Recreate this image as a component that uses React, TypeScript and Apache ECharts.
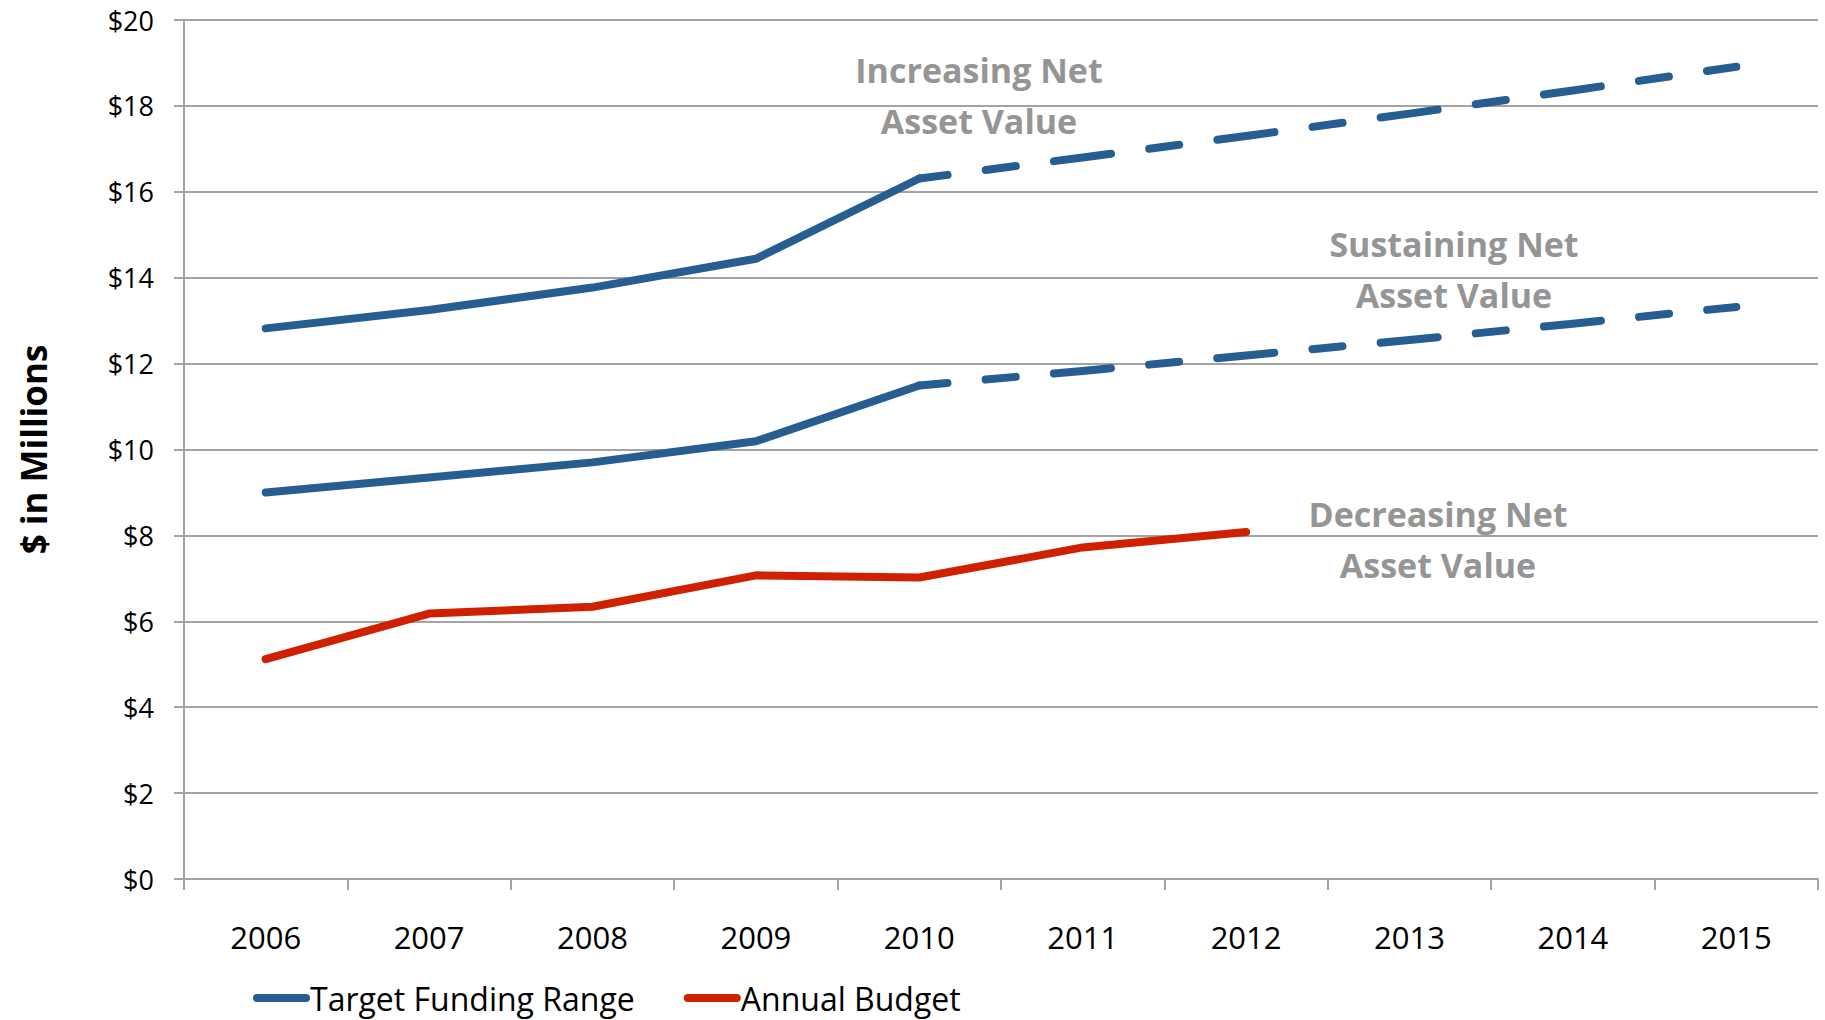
import React, { useEffect, useRef } from "react";
import * as echarts from "echarts";

const years = ["2006", "2007", "2008", "2009", "2010", "2011", "2012", "2013", "2014", "2015"];
const increasingActual = [12.82, 13.25, 13.77, 14.44, 16.31, null, null, null, null, null];
const increasingProjected = [null, null, null, null, 16.31, 16.8, 17.3, 17.82, 18.36, 18.91];
const sustainingActual = [9.0, 9.35, 9.7, 10.19, 11.49, null, null, null, null, null];
const sustainingProjected = [null, null, null, null, 11.49, 11.83, 12.19, 12.55, 12.93, 13.32];
const annualBudget = [5.12, 6.18, 6.34, 7.07, 7.02, 7.72, 8.08, null, null, null];
const yTicks = { min: 0, max: 20, interval: 2 };
const annotations = [
  { text: "Increasing Net\nAsset Value", x: 979, y: 95 },
  { text: "Sustaining Net\nAsset Value", x: 1454, y: 269 },
  { text: "Decreasing Net\nAsset Value", x: 1438, y: 539 },
];

const BLUE = "#265E91";
const RED = "#CF2000";
const GRID = "#A3A3A3";
const FONT = "'Open Sans', sans-serif";
const TARGET = "Target Funding Range";
const BUDGET = "Annual Budget";

const legendIcon = "path://M4,0 H53 A4,4 0 0 1 53,8 H4 A4,4 0 0 1 4,0 Z";

export default function App() {
  const ref = useRef<HTMLDivElement>(null);
  useEffect(() => {
    document.body.style.margin = "0";
    if (!ref.current) return;
    const chart = echarts.init(ref.current, null, { renderer: "svg" });
    const solid = (name: string, data: any[], color: string) => ({
      type: "line",
      name,
      data,
      showSymbol: false,
      symbol: "none",
      connectNulls: false,
      color,
      lineStyle: { color, width: 8, cap: "round", join: "round" },
      z: 3,
    });
    const dashed = (name: string, data: any[], color: string, dash: number[], offset: number) => ({
      type: "line",
      name,
      data,
      showSymbol: false,
      symbol: "none",
      color,
      lineStyle: { color, width: 8, cap: "round", join: "round", type: dash, dashOffset: offset },
      z: 3,
    });
    chart.setOption({
      animation: false,
      backgroundColor: "#fff",
      textStyle: { fontFamily: FONT },
      grid: { left: 184, right: 7, top: 20, bottom: 141, containLabel: false, outerBoundsMode: "none" },
      legend: {
        data: [
          { name: TARGET, icon: legendIcon },
          { name: BUDGET, icon: legendIcon },
        ],
        left: 248,
        top: 975,
        itemWidth: 57,
        itemHeight: 8,
        itemGap: 49,
        textStyle: { fontFamily: FONT, fontSize: 32, lineHeight: 36, color: "#000", padding: [0, 0, 0, -5] },
        selectedMode: false,
      },
      xAxis: {
        type: "category",
        data: years,
        boundaryGap: true,
        axisLine: { show: true, lineStyle: { color: GRID, width: 2 } },
        axisTick: { show: true, interval: 0, length: 11, lineStyle: { color: GRID, width: 2 } },
        axisLabel: { interval: 0, margin: 42, fontFamily: FONT, fontSize: 31, color: "#000" },
        splitLine: { show: false },
      },
      yAxis: {
        type: "value",
        min: yTicks.min,
        max: yTicks.max,
        interval: yTicks.interval,
        name: "$ in Millions",
        nameLocation: "middle",
        nameGap: 133,
        nameRotate: 90,
        nameTextStyle: { fontFamily: FONT, fontSize: 35, fontWeight: "bold", color: "#000" },
        axisLine: { show: true, lineStyle: { color: GRID, width: 2 } },
        axisTick: { show: true, length: 10, lineStyle: { color: GRID, width: 2 } },
        axisLabel: {
          margin: 30,
          fontFamily: FONT,
          fontSize: 27,
          color: "#000",
          formatter: (v: number) => "$" + v,
        },
        splitLine: { show: true, lineStyle: { color: GRID, width: 2 } },
      },
      series: [
        solid(TARGET, increasingActual, BLUE),
        dashed(TARGET, increasingProjected, BLUE, [57.5, 38.5, 30.3, 38.5], 28.75),
        solid(TARGET, sustainingActual, BLUE),
        dashed(TARGET, sustainingProjected, BLUE, [57.3, 38.3, 30.2, 38.3], 28.65),
        solid(BUDGET, annualBudget, RED),
      ],
      graphic: annotations.map((a) => ({
        type: "text",
        x: a.x,
        y: a.y,
        z: 10,
        style: {
          text: a.text,
          fill: "#959595",
          font: `bold 34px ${FONT}`,
          textAlign: "center",
          textVerticalAlign: "middle",
          lineHeight: 51,
        },
      })),
    });
    return () => chart.dispose();
  }, []);
  return <div ref={ref} style={{ width: 1825, height: 1020 }} />;
}
